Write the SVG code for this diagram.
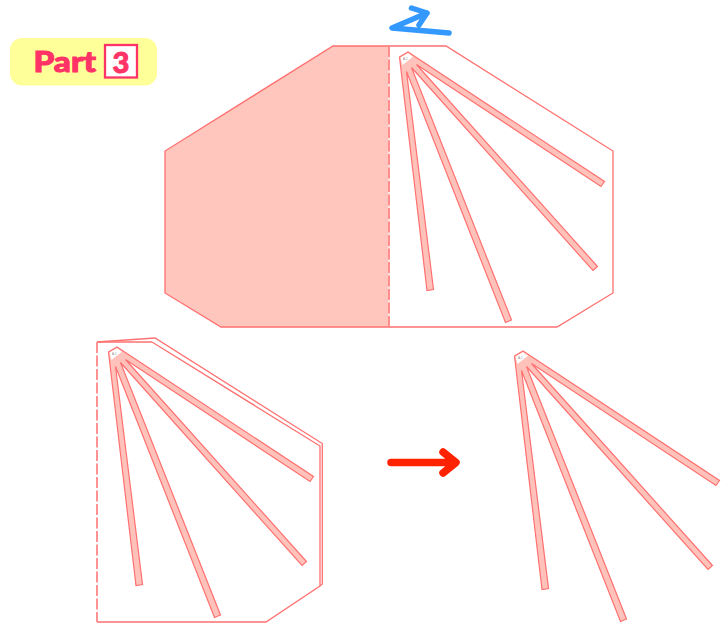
<svg xmlns="http://www.w3.org/2000/svg" xmlns:xlink="http://www.w3.org/1999/xlink" width="723" height="623" viewBox="0 0 723 623">
<style>
.edge{fill:none;stroke:#ff7070;stroke-width:1.3;stroke-linejoin:miter}
.fold{fill:none;stroke:#ff7070;stroke-width:1.5;stroke-dasharray:11 2.5}
.blade{fill:#ffc2ba;stroke:#ff7070;stroke-width:1.200;stroke-linejoin:miter}
.mark{font-family:"Liberation Sans",sans-serif;font-size:3px;fill:#888}
.ink{fill:none;stroke-linecap:round;stroke-linejoin:round}
.heavy{font-family:Lato,sans-serif;font-weight:900;fill:#ff3366;stroke:#ff3366;stroke-width:1}
</style>
<defs>
<g id="fan">
<path class="blade" d="M399.500,57 L408,52 L604.500,181.500 L601,186.500 L416.500,64.500 L597.500,266.500 L593,270.500 L411.500,67.500 L511.500,320 L505.500,322.500 L406.500,71.500 L433.500,289.500 L427,290.500 Z"/>
<path fill="#fff" d="M400.500,57.500 L408,53.200 L413,56.800 L402.500,65 Z"/>
<text class="mark" x="403" y="60">A-1</text>
</g>
</defs>
<g id="title">
<rect x="10" y="38" width="147" height="47.500" rx="12" fill="#ffff99"/>
<text class="heavy" x="33.500" y="72" font-size="28.500" textLength="62.500" lengthAdjust="spacingAndGlyphs">Part</text>
<rect x="105" y="45" width="32" height="32.500" fill="#fff" stroke="#ff3366" stroke-width="2.300"/>
<text class="heavy" x="121" y="72.500" text-anchor="middle" font-size="29">3</text>
</g>
<g id="sheet-top">
<path d="M389,46 L333,46 L165,151 L165,293 L221,327 L389,327 Z" fill="#ffc6be" stroke="#ff7070" stroke-width="1.300"/>
<path class="edge" d="M389,46 L446,46 L613,151 L613,293 L557,327 L389,327"/>
<line x1="389" y1="46" x2="389" y2="327" stroke="#fff" stroke-width="1.500"/>
<line class="fold" x1="389" y1="46" x2="389" y2="327"/>
<use xlink:href="#fan" href="#fan"/>
</g>
<g id="sheet-folded">
<path class="edge" d="M152,342 L320,446 L320,586"/>
<path class="edge" d="M97,342 L155,338 L322.300,443.500 L322.300,584 L320,586 L266,622 L97,622"/>
<path class="edge" d="M97,342 L152,342"/>
<line x1="97" y1="342" x2="97" y2="622" stroke="#fff" stroke-width="1.500"/>
<line class="fold" x1="97" y1="342" x2="97" y2="622"/>
<use xlink:href="#fan" href="#fan" transform="translate(-291,295)"/>
</g>
<g id="fan-result">
<use xlink:href="#fan" href="#fan" transform="translate(115,299)"/>
</g>
<g id="fold-mark">
<path class="ink" stroke="#3399ff" stroke-width="5.500" d="M411.500,8 L427,13 L419,25 M427,13 L392,28 L449,33"/>
</g>
<g id="connectors">
<path class="ink" stroke="#ff2200" stroke-width="7.500" d="M391,462.500 L455,462.500 M443,452 L456,462.500 L443,473"/>
</g>
</svg>
